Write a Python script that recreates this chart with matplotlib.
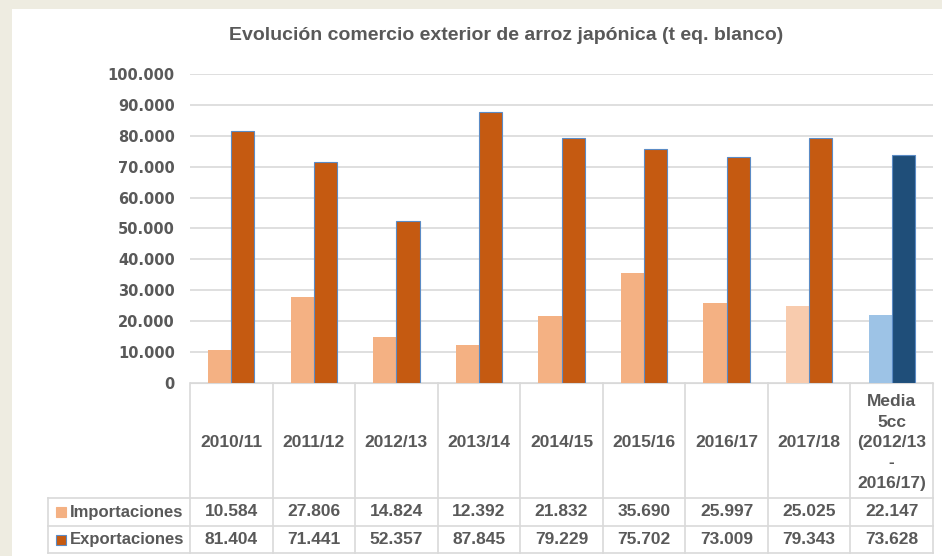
import matplotlib.pyplot as plt
import matplotlib.patches as mpatches
import numpy as np

# Datos (t eq. blanco)
campanas = ['2010/11', '2011/12', '2012/13', '2013/14', '2014/15',
            '2015/16', '2016/17', '2017/18', 'Media\n5cc\n(2012/13\n-\n2016/17)']
importaciones = [10584, 27806, 14824, 12392, 21832, 35690, 25997, 25025, 22147]
exportaciones = [81404, 71441, 52357, 87845, 79229, 75702, 73009, 79343, 73628]
series = ['Importaciones', 'Exportaciones']

col_imp = ['#F4B183'] * 7 + ['#F8CBAD', '#9DC3E6']
col_exp = ['#C55A11'] * 8 + ['#1F4E79']
gris = '#595959'
linea = '#D9D9D9'

def fmt(v):
    return f'{v:,.0f}'.replace(',', '.')

plt.rcParams['font.family'] = ['Liberation Sans', 'DejaVu Sans']

W, H = 942, 556
fig = plt.figure(figsize=(W / 100, H / 100), dpi=100)
fig.patch.set_facecolor('#EEECE1')
fig.patches.append(mpatches.Rectangle((12 / W, 0), 1, 1 - 9 / H,
                                      transform=fig.transFigure,
                                      facecolor='white', edgecolor='none', zorder=-5))

x0, x1, ytop, ybot = 190, 933, 74, 383
ax = fig.add_axes([x0 / W, 1 - ybot / H, (x1 - x0) / W, (ybot - ytop) / H])
ax.set_facecolor('none')
n = len(campanas)
x = np.arange(n)
bw = 0.28
ax.bar(x - bw / 2, importaciones, bw, color=col_imp, zorder=3)
ax.bar(x + bw / 2, exportaciones, bw, color=col_exp, edgecolor='#5B8BC5',
       linewidth=0.8, zorder=3)
ax.set_xlim(-0.5, n - 0.5)
ax.set_ylim(0, 100000)
ax.set_yticks(np.arange(0, 100001, 10000))
ax.set_yticklabels([fmt(v) for v in np.arange(0, 100001, 10000)],
                   fontsize=10.5, fontweight='bold', color=gris, family='DejaVu Sans')
ax.tick_params(axis='y', length=0, pad=11)
ax.set_xticks([])
ax.grid(axis='y', color=linea, linewidth=1.2, zorder=0)
for s in ['top', 'right', 'left']:
    ax.spines[s].set_visible(False)
ax.spines['bottom'].set_color(linea)

fig.text(506 / W, 1 - 36 / H, 'Evolución comercio exterior de arroz japónica (t eq. blanco)',
         ha='center', va='center', fontsize=14, fontweight='bold', color=gris)

# Tabla de datos bajo el eje
def fy(py):
    return 1 - py / H

def fx(px):
    return px / W

cw = (x1 - x0) / n
r0, r1, r2, r3 = 383, 498, 526, 553
lk = dict(color=linea, linewidth=1.2)
for i in range(n + 1):
    xp = x0 + i * cw
    fig.add_artist(plt.Line2D([fx(xp)] * 2, [fy(r0), fy(r3)], **lk))
fig.add_artist(plt.Line2D([fx(48)] * 2, [fy(r1), fy(r3)], **lk))
for r in [r1, r2, r3]:
    fig.add_artist(plt.Line2D([fx(48), fx(x1)], [fy(r)] * 2, **lk))

tk = dict(ha='center', va='center', fontsize=12.5, fontweight='bold', color=gris)
for i, c in enumerate(campanas):
    xc = fx(x0 + (i + 0.5) * cw)
    fig.text(xc, fy((r0 + r1) / 2 + 2), c, linespacing=1.45, **tk)
    fig.text(xc, fy((r1 + r2) / 2), fmt(importaciones[i]), **tk)
    fig.text(xc, fy((r2 + r3) / 2), fmt(exportaciones[i]), **tk)

for (serie, fc, ec, ya, yb) in [(series[0], '#F4B183', '#F4B183', r1, r2),
                                (series[1], '#C55A11', '#5B8BC5', r2, r3)]:
    ym = (ya + yb) / 2
    fig.patches.append(mpatches.Rectangle((fx(56), fy(ym + 5)), 10 / W, 10 / H,
                                          transform=fig.transFigure,
                                          facecolor=fc, edgecolor=ec, linewidth=0.8))
    fig.text(fx(70), fy(ym), serie, ha='left', va='center', fontsize=12,
             fontweight='bold', color=gris)

fig.savefig('out.png', dpi=100, facecolor=fig.get_facecolor())
